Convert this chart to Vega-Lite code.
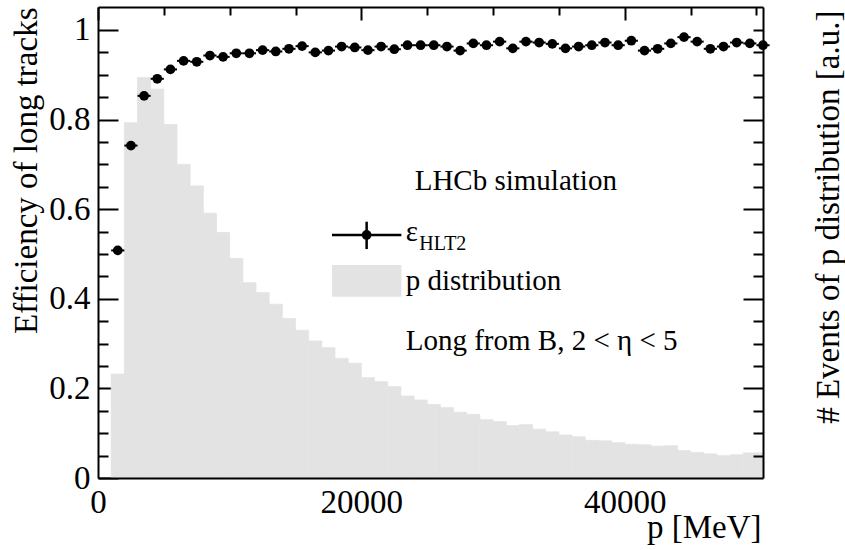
{
  "$schema": "https://vega.github.io/schema/vega-lite/v6.json",
  "width": 665,
  "height": 471,
  "autosize": {"type": "none"},
  "padding": {"left": 98, "top": 7, "right": 82, "bottom": 72},
  "background": "white",
  "config": {
    "font": "Liberation Serif",
    "view": {"stroke": null},
    "axis": {
      "labelFont": "Liberation Serif",
      "titleFont": "Liberation Serif",
      "labelFontSize": 33,
      "titleFontSize": 33,
      "titleFontWeight": "normal",
      "labelColor": "black",
      "titleColor": "black",
      "domainColor": "black",
      "tickColor": "black",
      "grid": false
    }
  },
  "datasets": {
    "hist": [
      {"lo": 1000, "hi": 2000, "events": 0.232},
      {"lo": 2000, "hi": 3000, "events": 0.793},
      {"lo": 3000, "hi": 4000, "events": 0.894},
      {"lo": 4000, "hi": 5000, "events": 0.868},
      {"lo": 5000, "hi": 6000, "events": 0.789},
      {"lo": 6000, "hi": 7000, "events": 0.700},
      {"lo": 7000, "hi": 8000, "events": 0.652},
      {"lo": 8000, "hi": 9000, "events": 0.591},
      {"lo": 9000, "hi": 10000, "events": 0.548},
      {"lo": 10000, "hi": 11000, "events": 0.490},
      {"lo": 11000, "hi": 12000, "events": 0.436},
      {"lo": 12000, "hi": 13000, "events": 0.414},
      {"lo": 13000, "hi": 14000, "events": 0.388},
      {"lo": 14000, "hi": 15000, "events": 0.356},
      {"lo": 15000, "hi": 16000, "events": 0.330},
      {"lo": 16000, "hi": 17000, "events": 0.306},
      {"lo": 17000, "hi": 18000, "events": 0.291},
      {"lo": 18000, "hi": 19000, "events": 0.267},
      {"lo": 19000, "hi": 20000, "events": 0.256},
      {"lo": 20000, "hi": 21000, "events": 0.224},
      {"lo": 21000, "hi": 22000, "events": 0.215},
      {"lo": 22000, "hi": 23000, "events": 0.204},
      {"lo": 23000, "hi": 24000, "events": 0.183},
      {"lo": 24000, "hi": 25000, "events": 0.174},
      {"lo": 25000, "hi": 26000, "events": 0.164},
      {"lo": 26000, "hi": 27000, "events": 0.157},
      {"lo": 27000, "hi": 28000, "events": 0.147},
      {"lo": 28000, "hi": 29000, "events": 0.142},
      {"lo": 29000, "hi": 30000, "events": 0.130},
      {"lo": 30000, "hi": 31000, "events": 0.126},
      {"lo": 31000, "hi": 32000, "events": 0.117},
      {"lo": 32000, "hi": 33000, "events": 0.119},
      {"lo": 33000, "hi": 34000, "events": 0.109},
      {"lo": 34000, "hi": 35000, "events": 0.103},
      {"lo": 35000, "hi": 36000, "events": 0.096},
      {"lo": 36000, "hi": 37000, "events": 0.092},
      {"lo": 37000, "hi": 38000, "events": 0.084},
      {"lo": 38000, "hi": 39000, "events": 0.083},
      {"lo": 39000, "hi": 40000, "events": 0.079},
      {"lo": 40000, "hi": 41000, "events": 0.075},
      {"lo": 41000, "hi": 42000, "events": 0.074},
      {"lo": 42000, "hi": 43000, "events": 0.071},
      {"lo": 43000, "hi": 44000, "events": 0.072},
      {"lo": 44000, "hi": 45000, "events": 0.061},
      {"lo": 45000, "hi": 46000, "events": 0.057},
      {"lo": 46000, "hi": 47000, "events": 0.054},
      {"lo": 47000, "hi": 48000, "events": 0.050},
      {"lo": 48000, "hi": 49000, "events": 0.052},
      {"lo": 49000, "hi": 50000, "events": 0.056},
      {"lo": 50000, "hi": 51000, "events": 0.056}
    ],
    "eff": [
      {"p": 1500, "lo": 1000, "hi": 2000, "eff": 0.508},
      {"p": 2500, "lo": 2000, "hi": 3000, "eff": 0.742},
      {"p": 3500, "lo": 3000, "hi": 4000, "eff": 0.853},
      {"p": 4500, "lo": 4000, "hi": 5000, "eff": 0.891},
      {"p": 5500, "lo": 5000, "hi": 6000, "eff": 0.912},
      {"p": 6500, "lo": 6000, "hi": 7000, "eff": 0.931},
      {"p": 7500, "lo": 7000, "hi": 8000, "eff": 0.929},
      {"p": 8500, "lo": 8000, "hi": 9000, "eff": 0.943},
      {"p": 9500, "lo": 9000, "hi": 10000, "eff": 0.940},
      {"p": 10500, "lo": 10000, "hi": 11000, "eff": 0.948},
      {"p": 11500, "lo": 11000, "hi": 12000, "eff": 0.948},
      {"p": 12500, "lo": 12000, "hi": 13000, "eff": 0.955},
      {"p": 13500, "lo": 13000, "hi": 14000, "eff": 0.952},
      {"p": 14500, "lo": 14000, "hi": 15000, "eff": 0.958},
      {"p": 15500, "lo": 15000, "hi": 16000, "eff": 0.964},
      {"p": 16500, "lo": 16000, "hi": 17000, "eff": 0.950},
      {"p": 17500, "lo": 17000, "hi": 18000, "eff": 0.954},
      {"p": 18500, "lo": 18000, "hi": 19000, "eff": 0.963},
      {"p": 19500, "lo": 19000, "hi": 20000, "eff": 0.961},
      {"p": 20500, "lo": 20000, "hi": 21000, "eff": 0.955},
      {"p": 21500, "lo": 21000, "hi": 22000, "eff": 0.963},
      {"p": 22500, "lo": 22000, "hi": 23000, "eff": 0.957},
      {"p": 23500, "lo": 23000, "hi": 24000, "eff": 0.966},
      {"p": 24500, "lo": 24000, "hi": 25000, "eff": 0.966},
      {"p": 25500, "lo": 25000, "hi": 26000, "eff": 0.966},
      {"p": 26500, "lo": 26000, "hi": 27000, "eff": 0.963},
      {"p": 27500, "lo": 27000, "hi": 28000, "eff": 0.954},
      {"p": 28500, "lo": 28000, "hi": 29000, "eff": 0.970},
      {"p": 29500, "lo": 29000, "hi": 30000, "eff": 0.966},
      {"p": 30500, "lo": 30000, "hi": 31000, "eff": 0.974},
      {"p": 31500, "lo": 31000, "hi": 32000, "eff": 0.959},
      {"p": 32500, "lo": 32000, "hi": 33000, "eff": 0.974},
      {"p": 33500, "lo": 33000, "hi": 34000, "eff": 0.972},
      {"p": 34500, "lo": 34000, "hi": 35000, "eff": 0.969},
      {"p": 35500, "lo": 35000, "hi": 36000, "eff": 0.959},
      {"p": 36500, "lo": 36000, "hi": 37000, "eff": 0.963},
      {"p": 37500, "lo": 37000, "hi": 38000, "eff": 0.966},
      {"p": 38500, "lo": 38000, "hi": 39000, "eff": 0.972},
      {"p": 39500, "lo": 39000, "hi": 40000, "eff": 0.966},
      {"p": 40500, "lo": 40000, "hi": 41000, "eff": 0.976},
      {"p": 41500, "lo": 41000, "hi": 42000, "eff": 0.954},
      {"p": 42500, "lo": 42000, "hi": 43000, "eff": 0.958},
      {"p": 43500, "lo": 43000, "hi": 44000, "eff": 0.970},
      {"p": 44500, "lo": 44000, "hi": 45000, "eff": 0.984},
      {"p": 45500, "lo": 45000, "hi": 46000, "eff": 0.974},
      {"p": 46500, "lo": 46000, "hi": 47000, "eff": 0.958},
      {"p": 47500, "lo": 47000, "hi": 48000, "eff": 0.963},
      {"p": 48500, "lo": 48000, "hi": 49000, "eff": 0.972},
      {"p": 49500, "lo": 49000, "hi": 50000, "eff": 0.970},
      {"p": 50500, "lo": 50000, "hi": 51000, "eff": 0.966}
    ],
    "legendBox": [{"x1": 17770, "x2": 23040, "y1": 0.4047, "y2": 0.4754}],
    "legendLine": [{"x1": 17770, "x2": 23040, "xc": 20400, "y": 0.5424, "y1": 0.511, "y2": 0.572}],
    "labels": [
      {"x": 24050, "y": 0.642, "text": "LHCb simulation"},
      {"x": 23370, "y": 0.528, "text": "ε"},
      {"x": 23370, "y": 0.4196, "text": "p distribution"},
      {"x": 23370, "y": 0.2857, "text": "Long from B, 2 < η < 5"}
    ],
    "sub": [{"x": 24400, "y": 0.508, "text": "HLT2"}]
  },
  "resolve": {"axis": {"x": "independent", "y": "independent"}},
  "layer": [
    {
      "data": {"name": "hist"},
      "mark": {"type": "rect", "color": "#e3e3e3", "stroke": "#e3e3e3", "strokeWidth": 0.8, "clip": true},
      "encoding": {
        "x": {"field": "lo", "type": "quantitative", "scale": {"domain": [0, 50500], "nice": false, "zero": false},
          "axis": {"orient": "bottom", "values": [0, 20000, 40000], "format": "d", "ticks": false, "tickSize": 0, "labelPadding": 8, "labelFlush": false, "labelOverlap": false, "domain": true, "domainWidth": 2, "zindex": 1,
            "title": "p [MeV]", "titleX": 663, "titleY": 59, "titleAlign": "right", "titleBaseline": "alphabetic"}},
        "x2": {"field": "hi"},
        "y": {"field": "events", "type": "quantitative", "scale": {"domain": [0, 1.0513], "nice": false, "zero": false},
          "axis": {"orient": "right", "values": [0.2, 0.4, 0.6, 0.8], "labels": false, "tickSize": -20, "tickWidth": 2, "domain": true, "domainWidth": 2, "zindex": 1,
            "title": "# Events of p distribution [a.u.]", "titleAngle": 270, "titleAlign": "right", "titleBaseline": "alphabetic", "titleX": 75, "titleY": 3}},
        "y2": {"datum": 0}
      }
    },
    {
      "data": {"name": "legendBox"},
      "mark": {"type": "rect", "color": "#e3e3e3"},
      "encoding": {
        "x": {"field": "x1", "type": "quantitative", "axis": null},
        "x2": {"field": "x2"},
        "y": {"field": "y1", "type": "quantitative",
          "axis": {"orient": "left", "values": [0.05, 0.1, 0.15, 0.25, 0.3, 0.35, 0.45, 0.5, 0.55, 0.65, 0.7, 0.75, 0.85, 0.9, 0.95], "labels": false, "tickSize": -10, "tickWidth": 2, "domain": false, "title": null}},
        "y2": {"field": "y2"}
      }
    },
    {
      "data": {"name": "eff"},
      "mark": {"type": "rule", "color": "black", "strokeWidth": 2},
      "encoding": {
        "x": {"field": "lo", "type": "quantitative",
          "axis": {"orient": "top", "values": [0, 20000, 40000], "labels": false, "tickSize": -13, "tickWidth": 2, "domain": true, "domainWidth": 2, "title": null}},
        "x2": {"field": "hi"},
        "y": {"field": "eff", "type": "quantitative",
          "axis": {"orient": "left", "values": [0, 0.2, 0.4, 0.6, 0.8, 1], "format": "~g", "ticks": false, "tickSize": 0, "labelPadding": 8, "labelOverlap": false, "domain": true, "domainWidth": 2,
            "title": "Efficiency of long tracks", "titleAngle": 270, "titleAlign": "right", "titleBaseline": "alphabetic", "titleX": -62, "titleY": 0}}
      }
    },
    {
      "data": {"name": "eff"},
      "mark": {"type": "point", "shape": "circle", "filled": true, "color": "black", "opacity": 1, "size": 95},
      "encoding": {
        "x": {"field": "p", "type": "quantitative",
          "axis": {"orient": "top", "values": [5000, 10000, 15000, 25000, 30000, 35000, 45000, 50000], "labels": false, "tickSize": -8, "tickWidth": 2, "domain": false, "title": null}},
        "y": {"field": "eff", "type": "quantitative",
          "axis": {"orient": "left", "values": [0, 0.2, 0.4, 0.6, 0.8, 1], "labels": false, "tickSize": -20, "tickWidth": 2, "domain": false, "title": null}}
      }
    },
    {
      "data": {"name": "legendLine"},
      "mark": {"type": "rule", "color": "black", "strokeWidth": 2.5},
      "encoding": {
        "x": {"field": "x1", "type": "quantitative", "axis": null},
        "x2": {"field": "x2"},
        "y": {"field": "y", "type": "quantitative",
          "axis": {"orient": "right", "values": [0.05, 0.1, 0.15, 0.25, 0.3, 0.35, 0.45, 0.5, 0.55, 0.65, 0.7, 0.75, 0.85, 0.9, 0.95, 1.0], "labels": false, "tickSize": -10, "tickWidth": 2, "domain": false, "zindex": 1, "title": null}}
      }
    },
    {
      "data": {"name": "legendLine"},
      "mark": {"type": "rule", "color": "black", "strokeWidth": 2.5},
      "encoding": {
        "x": {"field": "xc", "type": "quantitative", "axis": null},
        "y": {"field": "y1", "type": "quantitative", "axis": null},
        "y2": {"field": "y2"}
      }
    },
    {
      "data": {"name": "legendLine"},
      "mark": {"type": "point", "shape": "circle", "filled": true, "color": "black", "opacity": 1, "size": 95},
      "encoding": {
        "x": {"field": "xc", "type": "quantitative", "axis": null},
        "y": {"field": "y", "type": "quantitative", "axis": null}
      }
    },
    {
      "data": {"name": "labels"},
      "mark": {"type": "text", "font": "Liberation Serif", "fontSize": 29, "align": "left", "baseline": "alphabetic", "color": "black"},
      "encoding": {
        "x": {"field": "x", "type": "quantitative", "axis": null},
        "y": {"field": "y", "type": "quantitative", "axis": null},
        "text": {"field": "text"}
      }
    },
    {
      "data": {"name": "sub"},
      "mark": {"type": "text", "font": "Liberation Serif", "fontSize": 20, "align": "left", "baseline": "alphabetic", "color": "black"},
      "encoding": {
        "x": {"field": "x", "type": "quantitative", "axis": null},
        "y": {"field": "y", "type": "quantitative", "axis": null},
        "text": {"field": "text"}
      }
    }
  ]
}
